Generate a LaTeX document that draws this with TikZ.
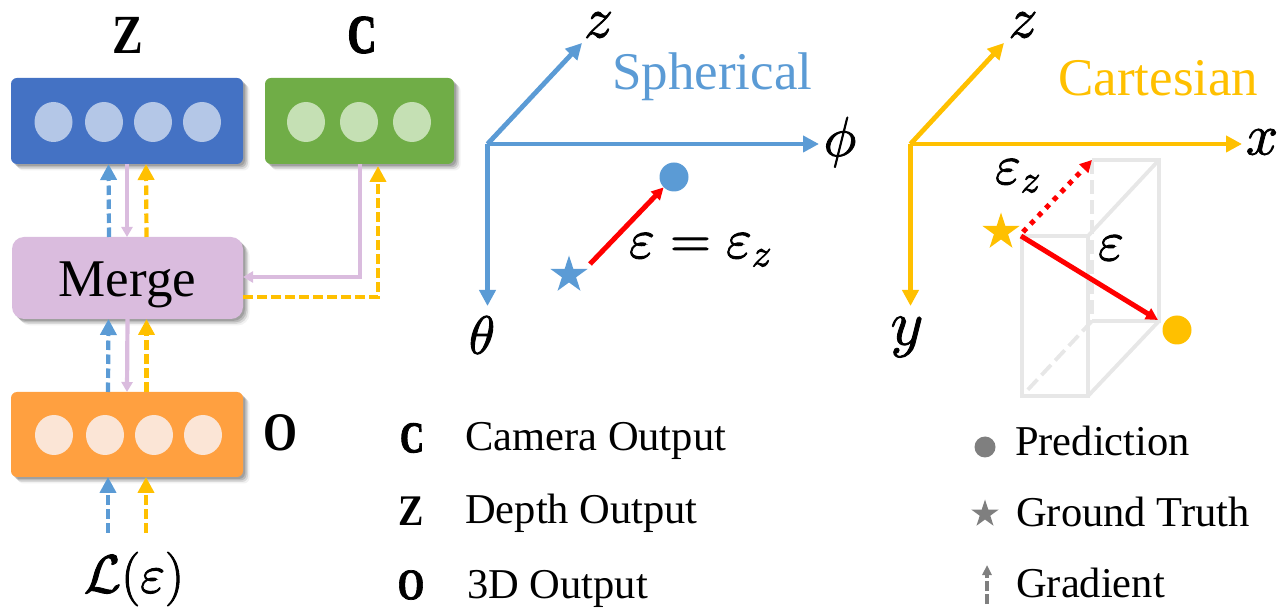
\RequirePackage{fix-cm}
\documentclass[tikz,border=0pt]{standalone}
\usepackage{fontspec}
\setmainfont{Liberation Serif}
\usetikzlibrary{arrows.meta,shapes.geometric,shadows}
\definecolor{cblue}{HTML}{5B9BD5}
\definecolor{cyel}{HTML}{FFC000}
\definecolor{cpur}{HTML}{DABCDE}
\definecolor{cgray}{HTML}{7F7F7F}
\definecolor{cbox}{HTML}{E7E7E7}
\newcommand{\fs}[1]{\fontsize{#1}{#1}\selectfont}
\newcommand{\heavy}[2]{\special{pdf:code 2 Tr #1 w}#2\special{pdf:code 0 Tr}}
\newcommand{\bmth}[1]{\heavy{0.9}{$#1$}}
\tikzset{
  softshadow/.style={
    drop shadow={shadow xshift=2pt,shadow yshift=-2pt,opacity=.14,fill=black},
    drop shadow={shadow xshift=3.5pt,shadow yshift=-3.5pt,opacity=.14,fill=black},
    drop shadow={shadow xshift=5pt,shadow yshift=-5pt,opacity=.10,fill=black},
    drop shadow={shadow xshift=6.5pt,shadow yshift=-6.5pt,opacity=.05,fill=black}},
  block/.style={rectangle,rounded corners=6pt,inner sep=0pt,outer sep=0pt,minimum height=86pt,softshadow},
  dot/.style={ellipse,inner sep=0pt,minimum width=38pt,minimum height=40pt},
  dash up/.style={line width=4.2pt,dash pattern=on 9.5pt off 4.5pt,-{Triangle[width=16pt,length=16pt]}},
  pur arrow/.style={cpur,line width=4.2pt,-{Triangle[width=11pt,length=10pt]}},
  axis blue/.style={cblue,line width=4.8pt,line join=miter,-{Triangle[width=16pt,length=16pt]}},
  axis yel/.style={cyel,line width=4.8pt,line join=miter,-{Triangle[width=16pt,length=16pt]}},
  err/.style={red,line width=5pt,-{Triangle[width=12pt,length=12pt]}},
  wire/.style={cbox,line width=3.8pt},
  wired/.style={cbox,line width=3.8pt,dash pattern=on 14pt off 6pt},
  lab/.style={inner sep=0pt,anchor=base west},
  ctr/.style={inner sep=0pt,anchor=center},
  bigb/.style={inner sep=0pt,anchor=center,font=\fs{46}\bfseries},
  legb/.style={inner sep=0pt,anchor=center,font=\fs{38}\bfseries},
  legt/.style={lab,font=\fs{42.5}},
  mark star/.style={star,star points=5,star point ratio=2.618,inner sep=0pt,minimum size=#1,fill},
  mark dot/.style={circle,inner sep=0pt,minimum size=#1,fill}
}
\begin{document}
\begin{tikzpicture}[x=1pt,y=-1pt]
\useasboundingbox (0,0) rectangle (1278,609);
% blocks
\node[block,fill={rgb,255:red,68;green,114;blue,196},minimum width=232pt] (zbox) at (127,121) {};
\node[block,fill={rgb,255:red,112;green,173;blue,71},minimum width=189pt] (cbox) at (359.5,121) {};
\node[block,fill=cpur,rounded corners=12pt,minimum width=231pt,minimum height=82pt] (merge) at (127.5,278) {};
\node[inner sep=0pt,anchor=base,font=\fs{53}] (mergetxt) at (127.5,297) {Merge};
\node[block,fill={rgb,255:red,255;green,160;blue,64},minimum width=232pt,minimum height=85pt] (obox) at (127,434.5) {};
% dots
\foreach \n/\x in {a/53.5,b/104,c/153,d/202}
  \node[dot,fill={rgb,255:red,180;green,199;blue,231}] (z\n) at (\x,122) {};
\foreach \n/\x in {a/306,b/359,c/412}
  \node[dot,fill={rgb,255:red,197;green,224;blue,180}] (c\n) at (\x,122) {};
\foreach \n/\x in {a/54,b/105,c/154,d/203}
  \node[dot,fill={rgb,255:red,251;green,229;blue,214}] (o\n) at (\x,435) {};
% labels
\node[bigb] (lz) at (127.5,35) {\scalebox{1}[1.2]{Z}};
\node[bigb] (lc) at (362,35) {\scalebox{.87}[1.18]{\heavy{1.2}{C}}};
\node[bigb] (lo) at (280,433) {\scalebox{.95}[1.18]{O}};
\node[ctr,font=\fs{54}] (loss) at (134,579) {\bmth{\mathcal{L}(\varepsilon)}};
% connectors merge -> z
\draw[dash up,cblue] ([xshift=-18.5pt]merge.north) -- ([xshift=-18.5pt]zbox.south);
\draw[dash up,cyel] ([xshift=19pt]merge.north) -- ([xshift=19pt]zbox.south);
\draw[pur arrow] ([xshift=0pt]zbox.south) -- ([xshift=-0.5pt]merge.north);
% connectors o -> merge
\draw[dash up,cblue] ([xshift=-19pt]obox.north) -- ([xshift=-19pt]merge.south);
\draw[dash up,cyel] ([xshift=19.5pt]obox.north) -- ([xshift=19pt]merge.south);
\draw[pur arrow] (merge.south) -- (obox.north);
% loss -> o
\coordinate (lossb) at (108,533);
\coordinate (lossy) at (146,533);
\draw[dash up,cblue] (lossb) -- (lossb |- obox.south);
\draw[dash up,cyel] (lossy) -- (lossy |- obox.south);
% c <-> merge
\coordinate (cp) at (360,164);
\coordinate (cy) at (378,166);
\draw[pur arrow,line join=miter] (cp) -- (360,277) -- (merge.east |- 0,277);
\draw[dash up,cyel,line join=miter] (merge.east |- 0,297) -- (378,297) -- (cy);
% spherical
\coordinate (so) at (487.5,144);
\coordinate (sz) at (582,43);
\coordinate (sp) at (819,144);
\coordinate (st) at (487.5,306);
\draw[axis blue] (so) -- (sz);
\draw[axis blue] (so) -- (sp);
\draw[axis blue] (so) -- (st);
\node[ctr,font=\fs{58}] (szl) at (598.5,25) {\bmth{z}};
\node[ctr,font=\fs{56}] (spl) at (840,142) {\bmth{\phi}};
\node[ctr,font=\fs{54}] (stl) at (482,335) {\bmth{\theta}};
\node[lab,font=\fs{53},text=cblue] (sph) at (612,90) {Spherical};
\node[mark star=39pt,cblue] (sgt) at (569,275) {};
\node[mark dot=29pt,cblue] (spr) at (674,177) {};
\coordinate (sa) at (590,264);
\draw[err] (sa) -- (spr.225);
\node[ctr,font=\fs{56}] (seq) at (700.5,250) {\bmth{\varepsilon=\varepsilon_{z}}};
% box
\coordinate (fa) at (1022,236);
\coordinate (fb) at (1088,236);
\coordinate (fc) at (1088,396);
\coordinate (fd) at (1022,396);
\coordinate (ba) at (1092,160);
\coordinate (bb) at (1159,160);
\coordinate (bc) at (1159,321);
\coordinate (bd) at (1092,321);
\draw[wire] (fa) -- (fb) -- (fc) -- (fd) -- cycle;
\draw[wire] (ba) -- (bb) -- (bc) -- (bd);
\draw[wire] (bb) -- (fb);
\draw[wire] (bc) -- (fc);
\draw[wired] (ba) -- (bd);
\draw[wired] (bd) -- (fd);
% cartesian
\coordinate (co) at (910.5,144);
\coordinate (cz) at (1004,43);
\coordinate (cx) at (1242,144);
\coordinate (cyy) at (910.5,306);
\draw[axis yel] (co) -- (cz);
\draw[axis yel] (co) -- (cx);
\draw[axis yel] (co) -- (cyy);
\node[ctr,font=\fs{58}] (czl) at (1023,25) {\bmth{z}};
\node[ctr,font=\fs{58}] (cxl) at (1262,142) {\bmth{x}};
\node[ctr,font=\fs{64}] (cyl) at (907,337) {\bmth{y}};
\node[lab,font=\fs{53},text=cyel] (car) at (1058,96) {Cartesian};
\node[mark star=39pt,cyel] (cgt) at (1001,232) {};
\node[mark dot=29pt,cyel] (cpr) at (1177,330) {};
\coordinate (e1) at (1021,236);
\coordinate (e2) at (1158,320);
\coordinate (e3) at (1023,232);
\draw[err] (e1) -- (e2);
\draw[err,dash pattern=on 5pt off 6pt] (e3) -- (ba);
\node[ctr,font=\fs{56}] (cez) at (1018,176) {\bmth{\varepsilon_{z}}};
\node[ctr,font=\fs{56}] (ce) at (1111,248) {\bmth{\varepsilon}};
% legend
\node[legb] (k1) at (412,438) {\scalebox{.87}[1.15]{\heavy{1}{C}}};
\node[legb] (k2) at (411,511) {\scalebox{1}[1.15]{Z}};
\node[legb] (k3) at (411,585) {\scalebox{.9}[1.15]{\heavy{0.6}{O}}};
\node[legt] (t1) at (465,451) {Camera Output};
\node[legt] (t2) at (465,524) {Depth Output};
\node[legt] (t3) at (467,598) {3D Output};
\node[mark dot=21pt,cgray] (k4) at (985,447) {};
\node[mark star=29pt,cgray] (k5) at (985,514) {};
\coordinate (g1) at (987,604);
\coordinate (g2) at (987,565);
\draw[cgray,line width=3.4pt,dash pattern=on 10pt off 3pt,-{Triangle[width=9pt,length=10pt]}] (g1) -- (g2);
\node[legt] (t4) at (1015,456) {Prediction};
\node[legt] (t5) at (1016,526) {Ground Truth};
\node[legt] (t6) at (1016,597) {Gradient};
\end{tikzpicture}
\end{document}
